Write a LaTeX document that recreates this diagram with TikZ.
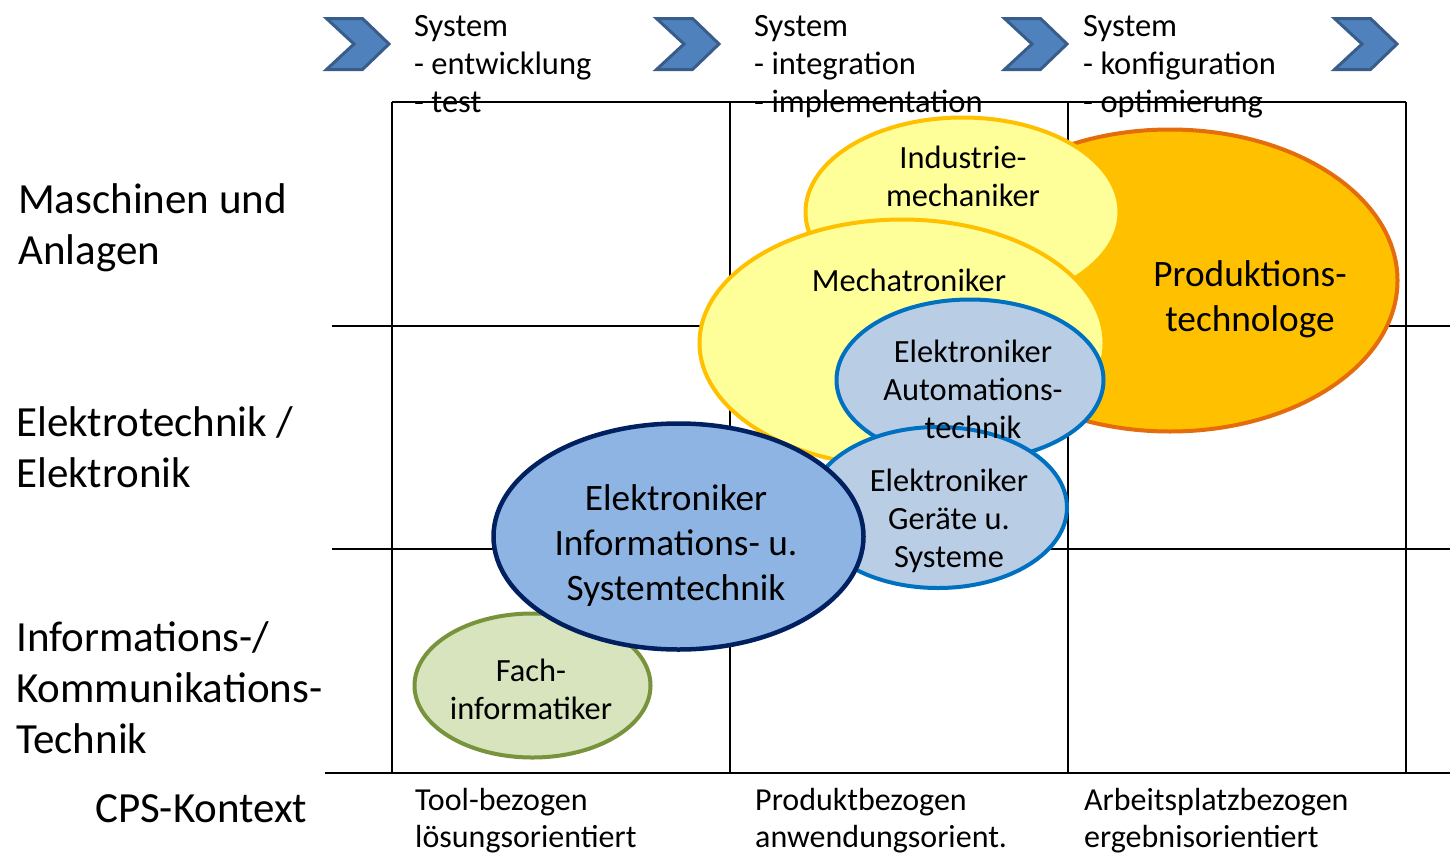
\documentclass[tikz,border=0pt]{standalone}
\usepackage{fontspec}
\setmainfont{Carlito}
\definecolor{chevfill}{HTML}{4F81BD}
\definecolor{chevline}{HTML}{385D8A}
\definecolor{orfill}{HTML}{FFC000}
\definecolor{orline}{HTML}{E46C0A}
\definecolor{yefill}{HTML}{FFFF99}
\definecolor{yeline}{HTML}{FFC000}
\definecolor{lbfill}{HTML}{B9CDE5}
\definecolor{lbline}{HTML}{0070C0}
\definecolor{mbfill}{HTML}{8EB4E3}
\definecolor{mbline}{HTML}{002060}
\definecolor{grfill}{HTML}{D7E4BD}
\definecolor{grline}{HTML}{77933C}
\newcommand\mlL[1]{\begin{tabular}[t]{@{}l@{}}#1\end{tabular}}
\newcommand\mlC[1]{\begin{tabular}[t]{@{}c@{}}#1\end{tabular}}
\begin{document}
\begin{tikzpicture}[x=1pt,y=-1pt,
  gridthin/.style={line width=1.2pt,black},
  gridthick/.style={line width=1.8pt,black},
  chev/.style={fill=chevfill,draw=chevline,line width=3pt,line join=miter},
  blob/.style={line width=4pt},
  txt/.style={inner sep=0pt,anchor=base},
  txtl/.style={inner sep=0pt,anchor=base west},
  top/.style={font=\fontsize{32.5}{38}\selectfont},
  small/.style={font=\fontsize{32.4}{38.3}\selectfont},
  mid/.style={font=\fontsize{37.3}{45}\selectfont},
  big/.style={font=\fontsize{43}{51}\selectfont},
  foot/.style={font=\fontsize{32}{37}\selectfont}]
\useasboundingbox[fill=white] (0,0) rectangle (1450,854);

% chevrons
\foreach \s in {0,330,678,1008}{
  \draw[chev,shift={(\s,0)}] (326.5,18.5) -- (362.5,18.5) -- (389,44) -- (362.5,69.5) -- (326.5,69.5) -- (354,44) -- cycle;
}

% grid
\draw[gridthin] (392,102) -- (1406,102);
\foreach \x in {392,730,1068,1406} \draw[gridthin] (\x,102) -- (\x,773);
\draw[gridthick] (332,326) -- (1450,326);
\draw[gridthick] (332,549) -- (1450,549);
\draw[gridthick] (325,773) -- (1450,773);

% ellipses
\filldraw[blob,fill=orfill,draw=orline] (1170,280.5) ellipse [x radius=227.5pt, y radius=151pt];
\filldraw[blob,fill=yefill,draw=yeline] (962.5,212) ellipse [x radius=157pt, y radius=94.5pt];
\filldraw[blob,fill=yefill,draw=yeline] (902,343) ellipse [x radius=202.5pt, y radius=123.5pt];
\filldraw[blob,fill=lbfill,draw=lbline] (970,380) ellipse [x radius=133.5pt, y radius=80.5pt];
\filldraw[blob,fill=lbfill,draw=lbline] (938,507.5) ellipse [x radius=129pt, y radius=80.5pt];
\filldraw[blob,fill=grfill,draw=grline] (532.5,685.5) ellipse [x radius=118pt, y radius=72pt];
\filldraw[blob,line width=4.5pt,fill=mbfill,draw=mbline] (678.5,536.5) ellipse [x radius=185pt, y radius=113pt];

% top phase labels
\node[txtl,top] (p1) at (414,36) {\mlL{System\\- entwicklung\\- test}};
\node[txtl,top] (p2) at (754,36) {\mlL{System\\- integration\\- implementation}};
\node[txtl,top] (p3) at (1083,36) {\mlL{System\\- konfiguration\\- optimierung}};

% row labels
\node[txtl,big] (r1) at (18,213) {\mlL{Maschinen und\\Anlagen}};
\node[txtl,big] (r2) at (16,436) {\mlL{Elektrotechnik /\\Elektronik}};
\node[txtl,big] (r3) at (16,651) {\mlL{Informations-/\\Kommunikations-\\Technik}};
\node[txtl,big] (r4) at (95,822) {CPS-Kontext};

% bottom labels
\node[txtl,foot] (b1) at (415,810) {\mlL{Tool-bezogen\\lösungsorientiert}};
\node[txtl,foot] (b2) at (755,810) {\mlL{Produktbezogen\\anwendungsorient.}};
\node[txtl,foot] (b3) at (1084,810) {\mlL{Arbeitsplatzbezogen\\ergebnisorientiert}};

% ellipse texts
\node[txt,mid] (pt) at (1250,286) {\mlC{Produktions-\\technologe}};
\node[txt,small] (im) at (963,168) {\mlC{Industrie-\\mechaniker}};
\node[txt,small] (mt) at (909,291) {Mechatroniker};
\node[txt,small] (ea) at (973,362) {\mlC{Elektroniker\\Automations-\\technik}};
\node[txt,small] (eg) at (949,491) {\mlC{Elektroniker\\Geräte u.\\Systeme}};
\node[txt,mid] (ei) at (676,510) {\mlC{Elektroniker\\Informations- u.\\Systemtechnik}};
\node[txt,small] (fi) at (531,681) {\mlC{Fach-\\informatiker}};
\end{tikzpicture}
\end{document}
